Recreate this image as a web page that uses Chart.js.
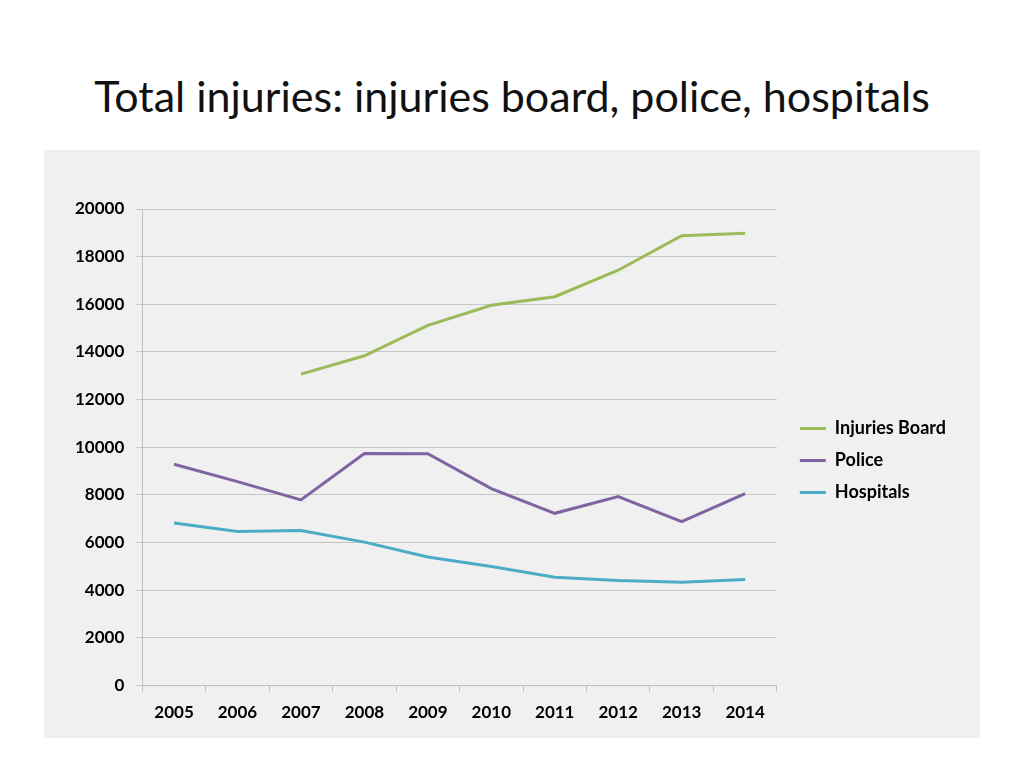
<!DOCTYPE html>
<html>
<head>
<meta charset="utf-8">
<script src="https://cdn.jsdelivr.net/npm/chart.js@4"></script>
<style>
  body { margin: 0; background: #fff; width: 1024px; height: 768px; position: relative; font-family: Lato, "Open Sans", sans-serif; }
  h1 { position: absolute; left: 0; top: 69px; width: 1024px; margin: 0; text-align: center; font-weight: normal; font-size: 43px; color: #111; line-height: 54px; }
  #box { position: absolute; left: 44px; top: 150px; width: 936px; height: 588px; background: #f0f0f0; }
</style>
</head>
<body>
<h1>Total injuries: injuries board, police, hospitals</h1>
<div id="box"><canvas id="myChart"></canvas></div>
<script>
const years = ["2005", "2006", "2007", "2008", "2009", "2010", "2011", "2012", "2013", "2014"];
const injuriesBoard = [null, null, 13070, 13840, 15120, 15960, 16320, 17430, 18880, 18980];
const police = [9290, 8560, 7790, 9740, 9730, 8270, 7230, 7930, 6880, 8060];
const hospitals = [6820, 6470, 6510, 6020, 5400, 5000, 4550, 4410, 4340, 4450];

const font = { family: "Lato, 'Open Sans', sans-serif", size: 17, weight: "bold" };

// nudge the legend a bit, Excel puts it slightly further from the plot
const legendNudge = {
  id: "legendNudge",
  afterLayout(chart) {
    const lg = chart.legend;
    lg.left += 9; lg.right += 9;
    lg.top -= 11; lg.bottom -= 11;
  },
};

new Chart(document.getElementById("myChart"), {
  type: "line",
  data: {
    labels: years,
    datasets: [
      { label: "Injuries Board", data: injuriesBoard, borderColor: "#9bbb59", backgroundColor: "#9bbb59" },
      { label: "Police", data: police, borderColor: "#8064a2", backgroundColor: "#8064a2" },
      { label: "Hospitals", data: hospitals, borderColor: "#4bacc6", backgroundColor: "#4bacc6" },
    ],
  },
  options: {
    responsive: true,
    maintainAspectRatio: false,
    animation: false,
    elements: {
      line: { borderWidth: 3, tension: 0 },
      point: { radius: 0, hoverRadius: 0 },
    },
    layout: { padding: { top: 59, left: 19, right: 33, bottom: 4 } },
    scales: {
      x: {
        offset: true,
        grid: { offset: true, drawOnChartArea: false, drawTicks: true, tickLength: 6, color: "#bfbfbf" },
        border: { color: "#bfbfbf" },
        ticks: { color: "#000", font: font, padding: 11, maxRotation: 0 },
      },
      y: {
        min: 0,
        max: 20000,
        ticks: { stepSize: 2000, color: "#000", font: font, padding: 12, callback: (v) => String(v) },
        grid: { color: "#c6c6c6", tickLength: 6 },
        border: { color: "#bfbfbf" },
      },
    },
    plugins: {
      legend: {
        position: "right",
        labels: {
          color: "#000",
          font: { family: "Lato, 'Open Sans', sans-serif", size: 18, weight: "bold" },
          boxWidth: 26,
          boxHeight: 3,
          padding: 14,
          generateLabels: (chart) =>
            Chart.defaults.plugins.legend.labels.generateLabels(chart).map((l) => ({ ...l, lineWidth: 0 })),
        },
      },
      tooltip: { enabled: false },
    },
  },
  plugins: [legendNudge],
});
</script>
</body>
</html>
